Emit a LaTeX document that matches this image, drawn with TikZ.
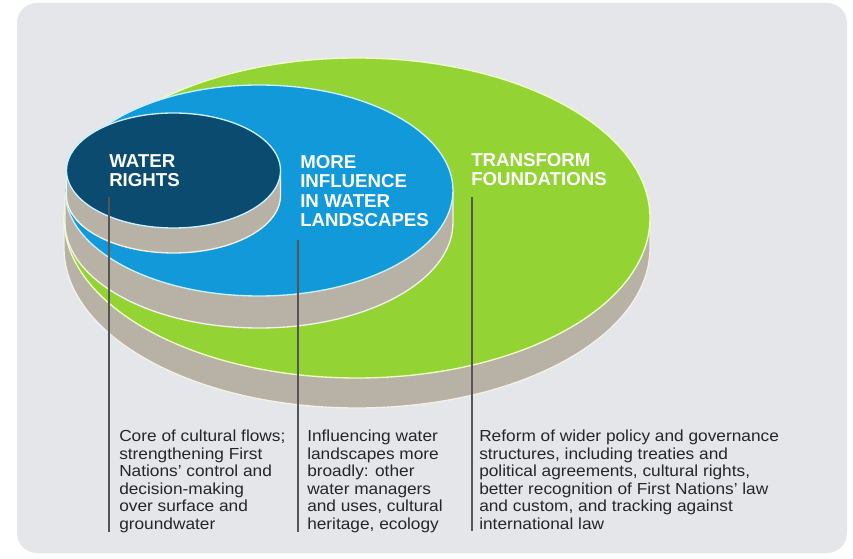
\documentclass[tikz,border=0pt]{standalone}
\usepackage{fontspec}
\setmainfont{Liberation Sans}
\newfontfamily\bodyfont[FakeStretch=1.08]{Liberation Sans}
\newfontfamily\headfont{Liberation Sans}
\definecolor{cPanel}{HTML}{E4E6E9}
\definecolor{cNavy}{HTML}{0B4B6F}
\definecolor{cBlue}{HTML}{1199D9}
\definecolor{cGreen}{HTML}{93D434}
\definecolor{cTan}{HTML}{B8B1A6}
\definecolor{cEdgeB}{HTML}{C9F1FF}
\definecolor{cEdgeG}{HTML}{EFFFC4}
\definecolor{cEdgeT}{HTML}{F3F1E8}
\definecolor{cLine}{HTML}{555555}
\definecolor{cText}{HTML}{262626}
\newcommand\mydisc[7]{%
  \filldraw[fill=cTan, draw=cEdgeT, line width=1pt]
    ({#1-#3},#2) -- ({#1-#3},{#2+#5})
    arc[start angle=180, end angle=0, x radius=#3, y radius=#4]
    -- ({#1+#3},#2) -- cycle;
  \filldraw[fill=#6, draw=#7, line width=1pt] (#1,#2) ellipse[x radius=#3, y radius=#4];
}
\tikzset{
  heading/.style={anchor=north west, inner sep=0pt, align=left, text=white,
    font=\headfont\bfseries\fontsize{14}{14.6}\selectfont},
  bodytext/.style={anchor=north west, inner sep=0pt, align=left, text=cText,
    font=\bodyfont\fontsize{12}{13.1}\selectfont},
  connector/.style={draw=cLine, line width=0.8pt}
}
\begin{document}
\begin{tikzpicture}[x=0.75pt, y=-0.75pt]
\useasboundingbox (0,0) rectangle (853,559);
\fill[white] (0,0) rectangle (853,559);
\fill[cPanel, rounded corners=15pt] (17,3) rectangle (847,553);
% stacked discs
\mydisc{357}{218}{293}{160}{30}{cGreen}{cEdgeG}
\mydisc{259}{190.5}{194}{105.5}{32}{cBlue}{cEdgeB}
\mydisc{173.5}{170.5}{107}{57.5}{25}{cNavy}{cEdgeB}
% headings
\node[heading] (h1) at (109,154) {WATER\\RIGHTS};
\node[heading] (h2) at (300,155) {MORE\\INFLUENCE\\IN WATER\\LANDSCAPES};
\node[heading] (h3) at (471,153) {TRANSFORM\\FOUNDATIONS};
% connector lines
\coordinate (l1a) at (109,197);
\coordinate (l1b) at (109,532);
\coordinate (l2a) at (298,240);
\coordinate (l2b) at (298,532);
\coordinate (l3a) at (472,197);
\coordinate (l3b) at (472,531);
\draw[connector] (l1a) -- (l1b);
\draw[connector] (l2a) -- (l2b);
\draw[connector] (l3a) -- (l3b);
% body texts
\node[bodytext] (t1) at (119,430) {Core of cultural flows;\\strengthening First\\Nations’ control and\\decision-making\\over surface and\\groundwater};
\node[bodytext] (t2) at (307,430) {Influencing water\\landscapes more\\broadly: other\\water managers\\and uses, cultural\\heritage, ecology};
\node[bodytext] (t3) at (479,430) {Reform of wider policy and governance\\structures, including treaties and\\political agreements, cultural rights,\\better recognition of First Nations’ law\\and custom, and tracking against\\international law};
\end{tikzpicture}
\end{document}
